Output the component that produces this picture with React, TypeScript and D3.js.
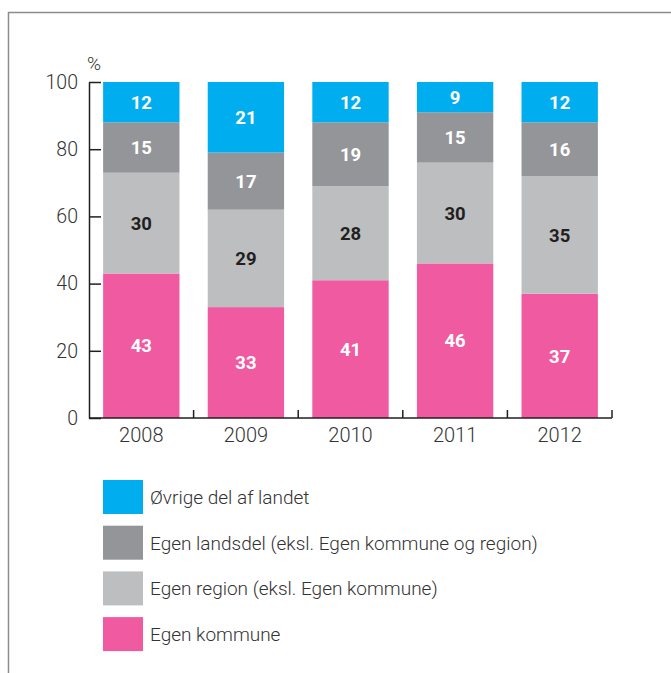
import React, { useRef, useEffect } from 'react';
import * as d3 from 'd3';

// Data
const years = ['2008', '2009', '2010', '2011', '2012'];
const series = ['Egen kommune', 'Egen region (eksl. Egen kommune)', 'Egen landsdel (eksl. Egen kommune og region)', 'Øvrige del af landet'];
const egenKommune = [43, 33, 41, 46, 37];
const egenRegion = [30, 29, 28, 30, 35];
const egenLandsdel = [15, 17, 19, 15, 16];
const ovrige = [12, 21, 12, 9, 12];
const yTicks = [0, 20, 40, 60, 80, 100];
const colors = ['#f05aa0', '#bcbec0', '#939598', '#00aeef'];
const labelColors = ['#ffffff', '#231f20', '#ffffff', '#ffffff'];
// legend order, top to bottom
const legendOrder = [3, 2, 1, 0];

export default function App() {
  const svgRef = useRef<SVGSVGElement>(null);

  useEffect(() => {
    const width = 671;
    const height = 673;
    const marginLeft = 89;
    const marginRight = 59;
    const top = 82;
    const bottom = 418;
    const font = 'Roboto, "Liberation Sans", sans-serif';

    const svg = d3.select(svgRef.current)
      .attr('width', width)
      .attr('height', height)
      .attr('viewBox', [0, 0, width, height]);
    svg.selectAll('*').remove();

    // frame
    svg.append('path')
      .attr('d', `M8.5,${height}V12.5H${width}`)
      .attr('fill', 'none')
      .attr('stroke', '#8c8c8c')
      .attr('stroke-width', 1.5);

    const x = d3.scaleBand()
      .domain(years)
      .range([marginLeft, width - marginRight])
      .padding(0);
    const barW = x.bandwidth() * 0.73;

    const y = d3.scaleLinear().domain([0, 100]).range([bottom, top]);

    const table = years.map((yr, i) => ({
      year: yr,
      s0: egenKommune[i],
      s1: egenRegion[i],
      s2: egenLandsdel[i],
      s3: ovrige[i],
    }));
    const stack = d3.stack<any>().keys(['s0', 's1', 's2', 's3'])(table);

    const layers = svg.append('g')
      .selectAll('g')
      .data(stack)
      .join('g');

    layers.selectAll('rect')
      .data((d, i) => d.map(p => ({ p, i })))
      .join('rect')
      .attr('x', d => x(d.p.data.year)! + (x.bandwidth() - barW) / 2)
      .attr('y', d => y(d.p[1]))
      .attr('width', barW)
      .attr('height', d => y(d.p[0]) - y(d.p[1]))
      .attr('fill', d => colors[d.i]);

    layers.selectAll('text')
      .data((d, i) => d.map(p => ({ p, i })))
      .join('text')
      .attr('x', d => x(d.p.data.year)! + x.bandwidth() / 2)
      .attr('y', d => (y(d.p[0]) + y(d.p[1])) / 2)
      .attr('dy', '0.36em')
      .attr('text-anchor', 'middle')
      .attr('font-family', font)
      .attr('font-weight', 'bold')
      .attr('font-size', 18.5)
      .attr('fill', d => labelColors[d.i])
      .text(d => d.p[1] - d.p[0]);

    // y axis
    const yAxis = svg.append('g')
      .attr('transform', `translate(${marginLeft},0)`)
      .call(d3.axisRight(y).tickValues(yTicks).tickSize(12).tickSizeOuter(0));
    yAxis.select('.domain').attr('stroke', '#231f20').attr('stroke-width', 1.5);
    yAxis.selectAll('.tick line').attr('stroke', '#231f20').attr('stroke-width', 1.5);
    yAxis.selectAll('.tick text')
      .attr('x', -11)
      .attr('text-anchor', 'end')
      .attr('font-family', font)
      .attr('font-weight', 300)
      .attr('font-size', 19.5)
      .attr('fill', '#333');

    svg.append('text')
      .attr('x', marginLeft + 5)
      .attr('y', 70)
      .attr('text-anchor', 'middle')
      .attr('font-family', font)
      .attr('font-weight', 300)
      .attr('font-size', 19)
      .attr('fill', '#333')
      .text('%');

    // x axis with ticks between bands, pointing up
    const xAxis = svg.append('g')
      .attr('transform', `translate(0,${bottom})`);
    xAxis.append('line')
      .attr('x1', marginLeft)
      .attr('x2', width - marginRight)
      .attr('stroke', '#231f20')
      .attr('stroke-width', 1.5);
    xAxis.selectAll('line.sep')
      .data(years)
      .join('line')
      .attr('class', 'sep')
      .attr('x1', d => x(d)! + x.bandwidth())
      .attr('x2', d => x(d)! + x.bandwidth())
      .attr('y1', 0)
      .attr('y2', -8)
      .attr('stroke', '#231f20')
      .attr('stroke-width', 1.5);
    xAxis.selectAll('text')
      .data(years)
      .join('text')
      .attr('x', d => x(d)! + x.bandwidth() / 2)
      .attr('y', 24)
      .attr('text-anchor', 'middle')
      .attr('font-family', font)
      .attr('font-weight', 300)
      .attr('font-size', 20)
      .attr('fill', '#333')
      .text(d => d);

    // legend
    const legend = svg.append('g')
      .selectAll('g')
      .data(legendOrder)
      .join('g')
      .attr('transform', (d, i) => `translate(103,${480 + i * 45.7})`);
    legend.append('rect')
      .attr('width', 40)
      .attr('height', 34)
      .attr('fill', d => colors[d]);
    legend.append('text')
      .attr('x', 47)
      .attr('y', 17)
      .attr('dy', '0.36em')
      .attr('font-family', font)
      .attr('font-weight', 300)
      .attr('font-size', 19)
      .attr('fill', '#333')
      .text(d => series[d]);
  }, []);

  return (
    <div style={{ position: 'absolute', left: 0, top: 0 }}>
      <svg ref={svgRef} style={{ display: 'block' }}></svg>
    </div>
  );
}
